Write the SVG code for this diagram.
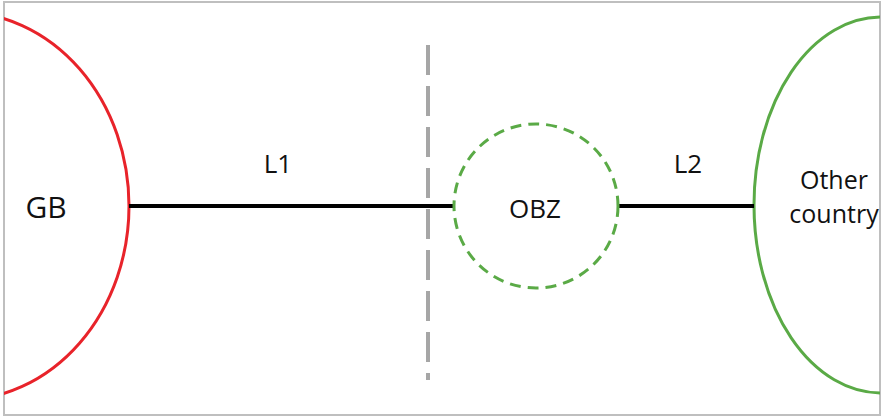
<svg xmlns="http://www.w3.org/2000/svg" width="882" height="418" viewBox="0 0 882 418">
<style>
text{font-family:"Open Sans","Liberation Sans",Arial,sans-serif;fill:#111;text-anchor:middle}
.lbl{font-size:26px}
.oc{font-size:25px}
.line{stroke:#000;stroke-width:4;fill:none}
</style>
<defs><clipPath id="frame"><rect x="4" y="2" width="876" height="413"/></clipPath></defs>
<rect x="4" y="2" width="876" height="413" fill="#fff" stroke="#bfbfbf" stroke-width="2"/>
<g clip-path="url(#frame)">
<g id="gb">
<ellipse cx="-40" cy="206" rx="169" ry="194" fill="none" stroke="#e8232a" stroke-width="3"/>
<text x="46" y="218" style="font-size:30px">GB</text>
</g>
<g id="other">
<ellipse cx="881" cy="205" rx="127" ry="188" fill="none" stroke="#5aaa46" stroke-width="3"/>
<text x="834" y="189" class="oc">Other</text>
<text x="834" y="223" class="oc">country</text>
</g>
</g>
<g id="boundary">
<line x1="428" y1="45" x2="428" y2="380" stroke="#a6a6a6" stroke-width="4" stroke-dasharray="30 11"/>
</g>
<g id="connectors">
<line class="line" x1="129" y1="206" x2="453" y2="206"/>
<line class="line" x1="619" y1="206" x2="754" y2="206"/>
<text x="278" y="173" class="lbl">L1</text>
<text x="688" y="173" class="lbl">L2</text>
</g>
<g id="obz">
<circle cx="536" cy="206" r="82" fill="none" stroke="#5aaa46" stroke-width="3" stroke-dasharray="11 7"/>
<text x="535" y="218" class="lbl">OBZ</text>
</g>
</svg>
